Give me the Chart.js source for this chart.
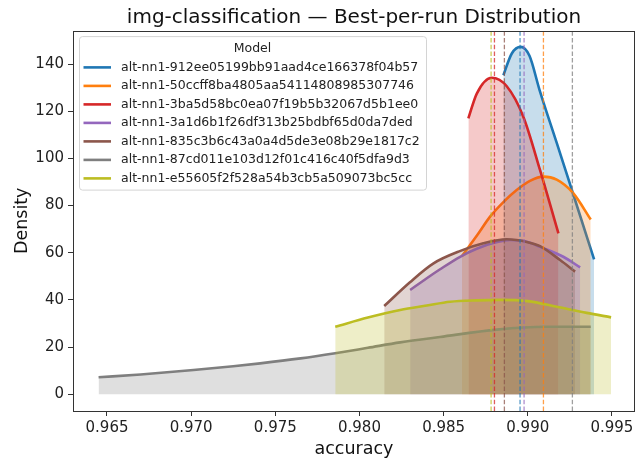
<!DOCTYPE html>
<html>
<head>
<meta charset="utf-8">
<script src="https://cdn.jsdelivr.net/npm/chart.js@4.4.1/dist/chart.umd.min.js"></script>
<style>
html,body{margin:0;padding:0;background:#fff;}
#wrap{width:644px;height:461px;}
</style>
</head>
<body>
<div id="wrap"><canvas id="c" width="644" height="461"></canvas></div>
<script>
// ---- data ----
const chartTitle = 'img-classification — Best-per-run Distribution';
const seriesNames = [
  "alt-nn1-912ee05199bb91aad4ce166378f04b57",
  "alt-nn1-50ccff8ba4805aa54114808985307746",
  "alt-nn1-3ba5d58bc0ea07f19b5b32067d5b1ee0",
  "alt-nn1-3a1d6b1f26df313b25bdbf65d0da7ded",
  "alt-nn1-835c3b6c43a0a4d5de3e08b29e1817c2",
  "alt-nn1-87cd011e103d12f01c416c40f5dfa9d3",
  "alt-nn1-e55605f2f528a54b3cb5a509073bc5cc"
];
const blueX   = [0.98855, 0.98905, 0.98958, 0.99010, 0.99070, 0.99172, 0.99271, 0.99394];
const blueY   = [135.3, 144.5, 147.3, 143.5, 129, 106.6, 84.6, 57.2];
const orangeX = [0.98608, 0.98700, 0.98776, 0.98855, 0.98934, 0.99013, 0.99093, 0.99172, 0.99271, 0.99374];
const orangeY = [58.5, 67.5, 75.3, 81.5, 86.6, 90.5, 92.3, 91, 85.2, 74.1];
const redX    = [0.98647, 0.98697, 0.98786, 0.98875, 0.98974, 0.99073, 0.99182];
const redY    = [117, 127.5, 134.2, 130.6, 117.6, 95, 68.2];
const purpleX = [0.98301, 0.98400, 0.98479, 0.98598, 0.98700, 0.98800, 0.98895, 0.99000, 0.99073, 0.99211, 0.99311];
const purpleY = [44.2, 49.2, 53, 58.3, 61.8, 64.2, 65.4, 64.6, 62.5, 58.3, 53.8];
const brownX  = [0.98147, 0.98300, 0.98440, 0.98600, 0.98736, 0.98875, 0.99000, 0.99073, 0.99192, 0.99281];
const brownY  = [37.4, 47.5, 55.5, 60.8, 64, 65.7, 64.5, 62.8, 56.9, 52];
const grayX   = [0.96450, 0.96700, 0.97014, 0.97250, 0.97410, 0.97650, 0.97856, 0.98050, 0.98242, 0.98479, 0.98816, 0.99100, 0.99374];
const grayY   = [7.2, 8.4, 10.3, 11.9, 13.1, 15.2, 17.4, 19.7, 22, 24.3, 27.4, 28.6, 28.6];
const oliveX  = [0.97856, 0.98050, 0.98242, 0.98400, 0.98539, 0.98700, 0.98836, 0.99000, 0.99172, 0.99350, 0.99495];
const oliveY  = [28.6, 32.5, 35.7, 37.6, 39.2, 39.8, 40, 39.5, 37.1, 34.5, 32.6];
const seriesMeans = [0.98954, 0.99093, 0.98802, 0.98978, 0.98861, 0.99265, 0.98782];
const xTickValues = [0.965, 0.970, 0.975, 0.980, 0.985, 0.990, 0.995];
const yTickValues = [0, 20, 40, 60, 80, 100, 120, 140];
const xRange = [0.96298, 0.99637];
const yRange = [-7.1, 154.2];

// ---- styling ----
const colors = ["#1f77b4", "#ff7f0e", "#d62728", "#9467bd", "#8c564b", "#7f7f7f", "#bcbd22"];
const FONT = "'DejaVu Sans', sans-serif";
function rgba(hex, a) {
  const n = parseInt(hex.slice(1), 16);
  return `rgba(${(n >> 16) & 255},${(n >> 8) & 255},${n & 255},${a})`;
}
const allX = [blueX, orangeX, redX, purpleX, brownX, grayX, oliveX];
const allY = [blueY, orangeY, redY, purpleY, brownY, grayY, oliveY];

const datasets = [];
allX.forEach((xs, i) => {
  datasets.push({
    label: seriesNames[i],
    data: xs.map((x, k) => ({x: x, y: allY[i][k]})),
    borderColor: colors[i],
    backgroundColor: rgba(colors[i], 0.25),
    borderWidth: 2.6,
    fill: 'origin',
    pointRadius: 0,
    tension: 0.4,
    cubicInterpolationMode: 'monotone',
    order: -i
  });
});
seriesMeans.forEach((m, i) => {
  datasets.push({
    label: 'mean ' + i,
    data: [{x: m, y: yRange[0]}, {x: m, y: yRange[1]}],
    borderColor: rgba(colors[i], 0.75),
    borderWidth: 1.3,
    borderDash: [4.5, 2.2],
    fill: false,
    pointRadius: 0,
    order: -100 - i
  });
});

const framePlugin = {
  id: 'frame',
  afterDraw(chart) {
    const {ctx, chartArea: a} = chart;
    ctx.save();
    ctx.strokeStyle = '#333';
    ctx.lineWidth = 1;
    ctx.strokeRect(Math.round(a.left) + 0.5, Math.round(a.top) + 0.5,
                   Math.round(a.right - a.left) - 1, Math.round(a.bottom - a.top));
    // title centred over the axes, as matplotlib does
    ctx.fillStyle = '#111';
    ctx.font = `20px ${FONT}`;
    ctx.textAlign = 'center';
    ctx.textBaseline = 'alphabetic';
    ctx.fillText(chartTitle, (a.left + a.right) / 2, a.top - 8);
    ctx.restore();
  }
};

const legendPlugin = {
  id: 'mplLegend',
  afterDraw(chart) {
    const {ctx, chartArea: a} = chart;
    const bx = a.left + 6.5, by = a.top + 6, bw = 347, bh = 153.5;
    ctx.save();
    ctx.beginPath();
    const r = 3;
    ctx.moveTo(bx + r, by);
    ctx.lineTo(bx + bw - r, by); ctx.quadraticCurveTo(bx + bw, by, bx + bw, by + r);
    ctx.lineTo(bx + bw, by + bh - r); ctx.quadraticCurveTo(bx + bw, by + bh, bx + bw - r, by + bh);
    ctx.lineTo(bx + r, by + bh); ctx.quadraticCurveTo(bx, by + bh, bx, by + bh - r);
    ctx.lineTo(bx, by + r); ctx.quadraticCurveTo(bx, by, bx + r, by);
    ctx.closePath();
    ctx.fillStyle = 'rgba(255,255,255,0.8)';
    ctx.fill();
    ctx.strokeStyle = '#d4d4d4';
    ctx.lineWidth = 1;
    ctx.stroke();
    ctx.fillStyle = '#222';
    ctx.font = `12.5px ${FONT}`;
    ctx.textBaseline = 'middle';
    ctx.textAlign = 'center';
    ctx.fillText('Model', bx + bw / 2 - 0.5, by + 12);
    ctx.textAlign = 'left';
    seriesNames.forEach((name, i) => {
      const y = by + 30.8 + i * 18.5;
      ctx.strokeStyle = colors[i];
      ctx.lineWidth = 2.6;
      ctx.beginPath();
      ctx.moveTo(bx + 4, y);
      ctx.lineTo(bx + 31.5, y);
      ctx.stroke();
      ctx.fillStyle = '#222';
      ctx.fillText(name, bx + 41.5, y);
    });
    ctx.restore();
  }
};

new Chart(document.getElementById('c'), {
  type: 'line',
  data: {datasets: datasets},
  plugins: [framePlugin, legendPlugin],
  options: {
    responsive: false,
    animation: false,
    layout: {padding: {left: 0, right: 9, top: 30.6, bottom: 0}},
    plugins: {
      legend: {display: false},
      tooltip: {enabled: false},
      title: {display: false}
    },
    scales: {
      x: {
        type: 'linear',
        min: xRange[0],
        max: xRange[1],
        afterFit(s) { s.height = 50; },
        afterBuildTicks(s) { s.ticks = xTickValues.map(v => ({value: v})); },
        border: {display: false},
        grid: {display: true, drawOnChartArea: false, drawTicks: true, tickLength: 5, color: '#333', lineWidth: 1},
        ticks: {
          color: '#222', font: {family: FONT, size: 15}, padding: 3,
          maxRotation: 0, autoSkip: false,
          callback: v => v.toFixed(3)
        },
        title: {display: true, text: 'accuracy', color: '#111',
          font: {family: FONT, size: 17.5, lineHeight: 1.2}, padding: {top: 0, bottom: 1}}
      },
      y: {
        type: 'linear',
        min: yRange[0],
        max: yRange[1],
        afterFit(s) { s.width = 73; },
        afterBuildTicks(s) { s.ticks = yTickValues.map(v => ({value: v})); },
        border: {display: false},
        grid: {display: true, drawOnChartArea: false, drawTicks: true, tickLength: 5, color: '#333', lineWidth: 1},
        ticks: {
          color: '#222', font: {family: FONT, size: 15}, padding: 4,
          autoSkip: false,
          callback: v => String(v)
        },
        title: {display: true, text: 'Density', color: '#111',
          font: {family: FONT, size: 17.5, lineHeight: 1.2}, padding: {top: 11.5, bottom: 0}}
      }
    }
  }
});
</script>
</body>
</html>
